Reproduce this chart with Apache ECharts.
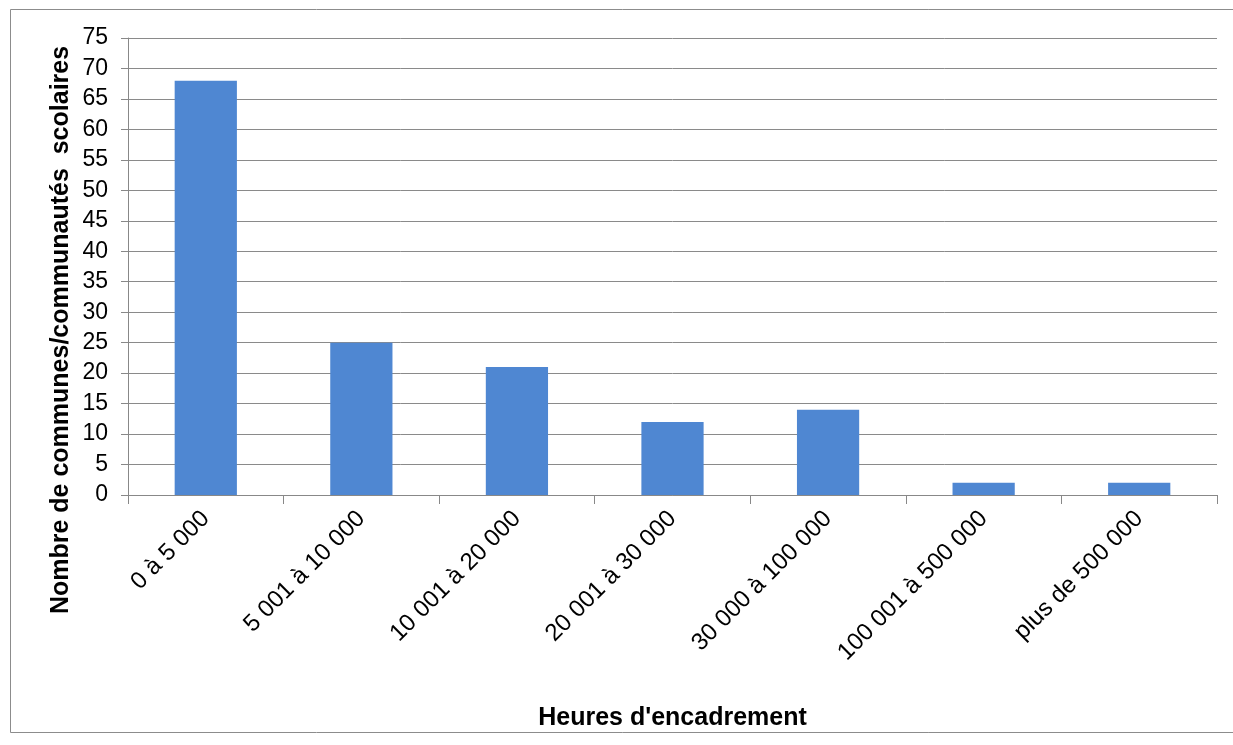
<!DOCTYPE html>
<html>
<head>
<meta charset="utf-8">
<script src="https://cdn.jsdelivr.net/npm/echarts@6/dist/echarts.min.js"></script>
<style>
html,body{margin:0;padding:0;background:#fff;}
#c{width:1233px;height:745px;}
</style>
</head>
<body>
<div id="c"></div>
<script>
const categories = ["0 à 5 000", "5 001 à 10 000", "10 001 à 20 000", "20 001 à 30 000", "30 000 à 100 000", "100 001 à 500 000", "plus de 500 000"];
const values = [68, 25, 21, 12, 14, 2, 2];
const yTitle = "Nombre de communes/communautés  scolaires";
const xTitle = "Heures d'encadrement";

const chart = echarts.init(document.getElementById('c'), null, {renderer: 'canvas'});
const font = "Liberation Sans, Arial, sans-serif";
chart.setOption({
  animation: false,
  backgroundColor: '#ffffff',
  grid: {left: 128, right: 16, top: 38, bottom: 250, containLabel: false},
  graphic: [
    {type: 'rect', shape: {x: 10.5, y: 9.5, width: 1240, height: 723}, style: {fill: 'none', stroke: '#8c8c8c', lineWidth: 1}, silent: true},
    {type: 'text', x: 61, y: 330, rotation: Math.PI / 2,
     style: {text: yTitle, font: 'bold 25px ' + font, fill: '#000', align: 'center', verticalAlign: 'middle'}}
  ],
  xAxis: {
    type: 'category',
    data: categories,
    name: xTitle,
    nameLocation: 'middle',
    nameGap: 211,
    nameTextStyle: {fontFamily: font, fontSize: 25, fontWeight: 'bold', color: '#000'},
    axisLine: {lineStyle: {color: '#888888', width: 1}},
    axisTick: {show: true, alignWithLabel: false, length: 9, lineStyle: {color: '#888888'}},
    axisLabel: {rotate: 45, fontFamily: font, fontSize: 24, color: '#000', margin: 20, interval: 0},
    splitLine: {show: false}
  },
  yAxis: {
    type: 'value',
    min: 0, max: 75, interval: 5,
    axisLine: {show: true, lineStyle: {color: '#888888', width: 1}},
    axisTick: {show: true, length: 7, lineStyle: {color: '#888888'}},
    axisLabel: {fontFamily: font, fontSize: 23, color: '#000', margin: 20},
    splitLine: {show: true, lineStyle: {color: '#8a8a8a', width: 1}}
  },
  series: [{
    type: 'bar',
    data: values,
    barCategoryGap: '60%',
    itemStyle: {color: '#4f87d2'}
  }]
});
</script>
</body>
</html>
